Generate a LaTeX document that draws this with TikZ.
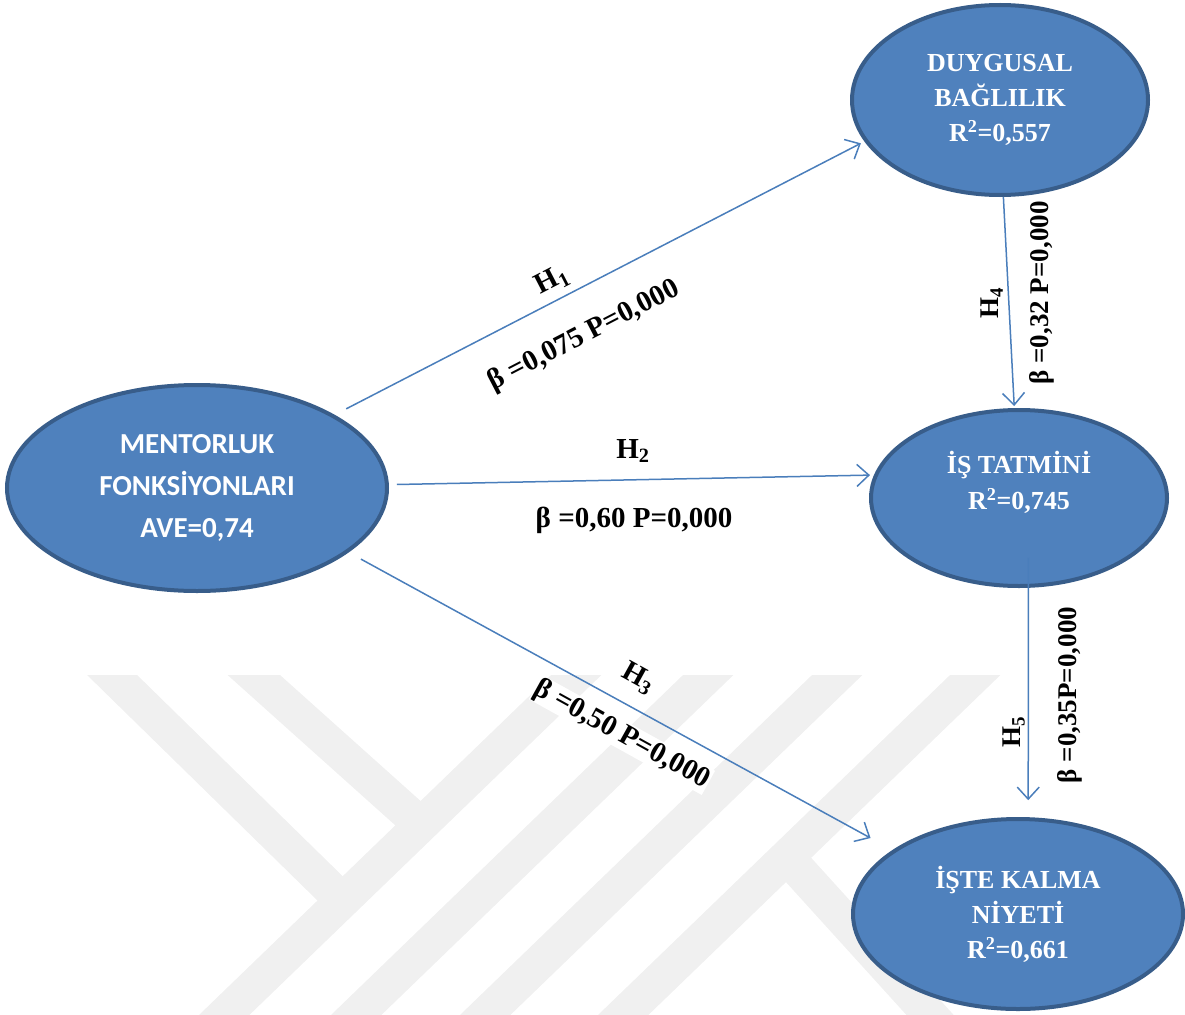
\documentclass[tikz,border=0pt]{standalone}
\usepackage{fontspec}
\setmainfont{Liberation Serif}
\newfontfamily\calibrifont{Carlito}
\usetikzlibrary{arrows.meta, positioning, shapes.geometric}

\definecolor{ovalfill}{HTML}{4F81BD}
\definecolor{ovaledge}{HTML}{385D8A}
\definecolor{pathblue}{HTML}{4A7EBB}
\definecolor{markgray}{HTML}{F0F0F0}

\begin{document}
\begin{tikzpicture}[x=1pt, y=-1pt,
    construct/.style={ellipse, draw=ovaledge, line width=4pt, fill=ovalfill, text=white, inner sep=0pt, align=center, font=\bfseries\fontsize{26}{35}\selectfont},
    ovaltext/.style={text=white, align=center, inner sep=0pt, font=\bfseries\fontsize{26}{36}\selectfont},
    hyp/.style={draw=pathblue, line width=1.5pt, -{Straight Barb[length=12pt, width=22pt]}},
    coef/.style={inner sep=1pt, font=\bfseries\fontsize{29}{32}\selectfont},
    upcoef/.style={coef, rotate=90, font=\bfseries\fontsize{27}{30}\selectfont},
    halo/.style={coef, fill=white, inner sep=0.5pt},
    band/.style={markgray, line width=35pt}]

\useasboundingbox (0,0) rectangle (1185,1014);

% faint watermark in the lower half
\begin{scope}
\clip (0,675) rectangle (1185,1014);
\draw[band] (61,625) -- (342,900);
\draw[band] (198,625) -- (410,815);
\draw[band] (190,1048) -- (628,625);
\draw[band] (322,1048) -- (760,625);
\draw[band] (451,1048) -- (889,625);
\draw[band] (589,1048) -- (1027,625);
\draw[band] (785,855) -- (960,1048);
\end{scope}

% constructs
\node[construct, minimum width=380pt, minimum height=206pt, font=\calibrifont\bfseries\fontsize{29}{42}\selectfont] (men) at (197,488) {MENTORLUK\\FONKSİYONLARI\\AVE=0,74};
\node[construct, minimum width=296pt, minimum height=190pt] (duy) at (1000,100) {DUYGUSAL\\BAĞLILIK\\R\textsuperscript{2}=0,557};
\node[construct, minimum width=296pt, minimum height=176pt] (tat) at (1019,498) {};
\node[ovaltext] (tattext) at ([yshift=16pt]tat.center) {İŞ TATMİNİ\\R\textsuperscript{2}=0,745};
\node[construct, minimum width=330pt, minimum height=190pt] (iste) at (1018,914) {İŞTE KALMA\\NİYETİ\\R\textsuperscript{2}=0,661};

% hypotheses
\draw[hyp, shorten <=13pt, shorten >=4pt] (men.28) -- (duy.197);
\draw[hyp, shorten <=8pt, shorten >=4pt] (men.1) -- (tat.171.5);
\draw[hyp, shorten <=14pt, shorten >=25pt] (men.-23.5) -- (iste.153.7);
\draw[hyp, shorten >=2pt] (duy.-88) -- (tat.93);
\draw[hyp, shorten <=-30pt, shorten >=17pt] (tat.-84) -- (iste.84);

% path coefficients
\node[coef, rotate=27.4] (h1) at (552,281) {H\textsubscript{1}};
\node[coef, rotate=27.4] (b1) at (584,336) {β =0,075 P=0,000};
\node[coef] (h2) at (633,451) {H\textsubscript{2}};
\node[coef] (b2) at (634,520) {β =0,60 P=0,000};
\node[halo, rotate=-29] (h3) at (638,678) {H\textsubscript{3}};
\node[halo, rotate=-29] (b3) at (622,735) {β =0,50 P=0,000};
\node[upcoef] (h4) at (992,303) {H\textsubscript{4}};
\node[upcoef] (b4) at (1042,293) {β =0,32 P=0,000};
\node[upcoef] (h5) at (1014,732) {H\textsubscript{5}};
\node[upcoef] (b5) at (1070,695) {β =0,35P=0,000};
\end{tikzpicture}
\end{document}
